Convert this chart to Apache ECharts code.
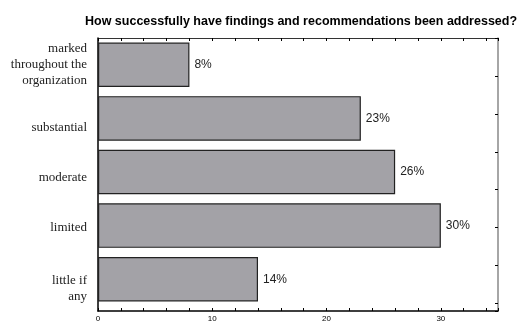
<!DOCTYPE html>
<html><head><meta charset="utf-8">
<script src="https://cdn.jsdelivr.net/npm/echarts@6/dist/echarts.min.js"></script>
<style>html,body{margin:0;padding:0;background:#fff}#c{width:518px;height:323px}</style>
</head><body><div id="c"></div>
<script>
const titleText = 'How successfully have findings and recommendations been addressed?';
const categories = ['marked\nthroughout the\norganization', 'substantial', 'moderate', 'limited', 'little if\nany'];
const values = [8, 23, 26, 30, 14];
const xTickStep = 2;
const xMax = 35;

// per-label vertical nudge (style only)
const labelShift = [0, 9, 5.5, 1.5, 9.5];
const rich = {
  t: {fontFamily: 'Liberation Serif', fontSize: 13, color: '#222', lineHeight: 16, align: 'right'}
};
labelShift.forEach((s, i) => {
  rich['s' + i] = {fontSize: 1, lineHeight: Math.max(1, 2 * s), align: 'right'};
});
function catLabel(v, i) {
  const body = v.split('\n').map(l => '{t|' + l + '}').join('\n');
  return labelShift[i] > 0 ? '{s' + i + '| }\n' + body : body;
}

const chart = echarts.init(document.getElementById('c'), null, {renderer: 'canvas'});
chart.setOption({
  animation: false,
  title: {text: titleText, left: 80, top: 10, textStyle: {fontFamily: 'Liberation Sans', fontWeight: 'bold', fontSize: 12.5, color: '#000'}},
  grid: [
    {left: 98, right: 20, top: 38, bottom: 17},
    {left: 98, right: 20, top: 38, bottom: 9}
  ],
  xAxis: [{
    gridIndex: 0, type: 'value', min: 0, max: xMax, show: false
  }, {
    gridIndex: 1, type: 'value', min: 0, max: xMax, interval: xTickStep, position: 'bottom',
    axisLine: {show: true, onZero: false, lineStyle: {color: '#000', width: 1.5}},
    axisTick: {show: true, inside: true, length: 3, lineStyle: {color: '#000'}},
    axisLabel: {fontFamily: 'Liberation Sans', fontSize: 8, color: '#000', margin: 4, formatter: v => (v % 10 === 0 ? String(v) : '')},
    splitLine: {show: false}
  }, {
    gridIndex: 1, type: 'value', min: 0, max: xMax, interval: xTickStep, position: 'top',
    axisLine: {show: true, onZero: false, lineStyle: {color: '#333', width: 1}},
    axisTick: {show: true, inside: true, length: 3, lineStyle: {color: '#000'}},
    axisLabel: {show: false}, splitLine: {show: false}
  }],
  yAxis: [{
    gridIndex: 0, type: 'category', data: categories, inverse: true, position: 'left',
    axisLine: {show: false, onZero: false},
    axisTick: {show: true, inside: true, alignWithLabel: true, length: 3, lineStyle: {color: '#000'}},
    axisLabel: {margin: 11, formatter: catLabel, rich: rich}
  }, {
    gridIndex: 1, type: 'value', min: 0, max: 1, position: 'left',
    axisLine: {show: true, onZero: false, lineStyle: {color: '#000', width: 1.5}},
    axisTick: {show: false}, axisLabel: {show: false}, splitLine: {show: false}
  }, {
    gridIndex: 1, type: 'value', min: 0, max: 7.2, interval: 1, inverse: true, position: 'right',
    axisLine: {show: true, onZero: false, lineStyle: {color: '#888', width: 1.5}},
    axisTick: {show: true, inside: true, length: 3, lineStyle: {color: '#000'}},
    axisLabel: {show: false}, splitLine: {show: false}
  }],
  series: [{
    type: 'bar', data: values, xAxisIndex: 0, yAxisIndex: 0, barCategoryGap: '17%',
    itemStyle: {color: '#a3a2a7', borderColor: '#222', borderWidth: 1.2},
    label: {show: true, position: 'right', distance: 5, formatter: p => p.value + '%', fontFamily: 'Liberation Sans', fontSize: 12, color: '#222'}
  }]
});
</script></body></html>
